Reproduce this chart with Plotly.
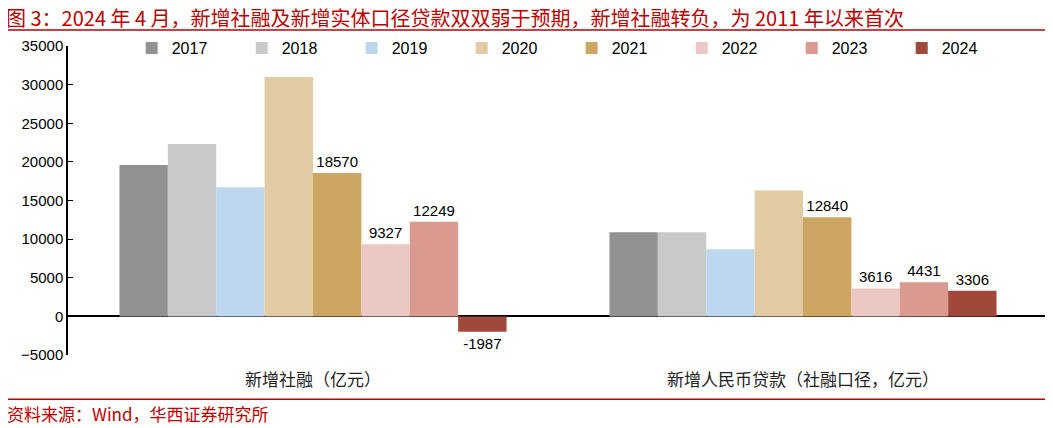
import plotly.graph_objects as go

categories = ['新增社融（亿元）', '新增人民币贷款（社融口径，亿元）']
years = ['2017', '2018', '2019', '2020', '2021', '2022', '2023', '2024']
v2017 = [19600, 10900]
v2018 = [22300, 10900]
v2019 = [16700, 8700]
v2020 = [31000, 16300]
v2021 = [18570, 12840]
v2022 = [9327, 3616]
v2023 = [12249, 4431]
v2024 = [-1987, 3306]
labelled = ['2021', '2022', '2023', '2024']

colors = ['#929292', '#C9C9C9', '#BDD7EE', '#E2CBA4',
          '#CDA664', '#EBC8C4', '#DA9A90', '#A0483A']

series = [v2017, v2018, v2019, v2020, v2021, v2022, v2023, v2024]
font_family = 'Arial, "Liberation Sans", "Noto Sans CJK SC"'
cjk_family = '"Noto Sans CJK SC", Arial'
red = '#C00000'

fig = go.Figure()
for yr, vals, c in zip(years, series, colors):
    fig.add_trace(go.Bar(
        name=yr,
        x=categories,
        y=vals,
        marker=dict(color=c, line=dict(width=0)),
        text=[str(v) for v in vals] if yr in labelled else None,
        textposition='outside',
        cliponaxis=False,
        constraintext='none',
        textfont=dict(size=15, color='#000000'),
    ))

# the page adds an 8px body margin, so the margins are set 8px smaller
fig.update_layout(
    width=1053, height=428,
    barmode='group',
    bargap=0.21,
    bargroupgap=0,
    plot_bgcolor='white',
    paper_bgcolor='white',
    font=dict(family=font_family, size=15, color='#000000'),
    margin=dict(l=60, r=13, t=38, b=81, autoexpand=False),
    showlegend=True,
    legend=dict(
        orientation='h',
        x=0.065, y=1 - 2 / 308,
        xanchor='left', yanchor='middle',
        entrywidth=65,
        itemwidth=30,
        bgcolor='rgba(0,0,0,0)',
        font=dict(size=16),
        traceorder='normal',
    ),
    xaxis=dict(
        showline=False,
        ticks='',
        ticklabelstandoff=13,
        tickfont=dict(family=cjk_family, size=17, color='#222222'),
    ),
    yaxis=dict(
        range=[-5000, 35000],
        dtick=5000,
        tickformat='d',
        showgrid=False,
        showline=True,
        linecolor='#000000',
        linewidth=1.5,
        ticks='inside',
        ticklen=5,
        tickcolor='#000000',
        zeroline=True,
        zerolinecolor='#000000',
        zerolinewidth=1.5,
        tickfont=dict(size=15),
    ),
)

fig.add_annotation(
    text='图 3：2024 年 4 月，新增社融及新增实体口径贷款双双弱于预期，新增社融转负，为 2011 年以来首次',
    xref='paper', yref='paper', x=-64 / 980, y=1 + 28.5 / 308,
    xanchor='left', yanchor='middle', showarrow=False,
    font=dict(family=cjk_family, size=20, color=red),
)
fig.add_annotation(
    text='资料来源：Wind，华西证券研究所',
    xref='paper', yref='paper', x=-63 / 980, y=-58 / 308,
    xanchor='left', yanchor='middle', showarrow=False,
    font=dict(family=cjk_family, size=17, color=red),
)
fig.add_shape(type='line', xref='paper', yref='paper',
              x0=-68 / 980, x1=1.0, y0=1 + 16 / 308, y1=1 + 16 / 308,
              line=dict(color=red, width=1.5))
fig.add_shape(type='line', xref='paper', yref='paper',
              x0=-68 / 980, x1=1.0, y0=-44 / 308, y1=-44 / 308,
              line=dict(color=red, width=1.5))

fig.write_html('out.html')
